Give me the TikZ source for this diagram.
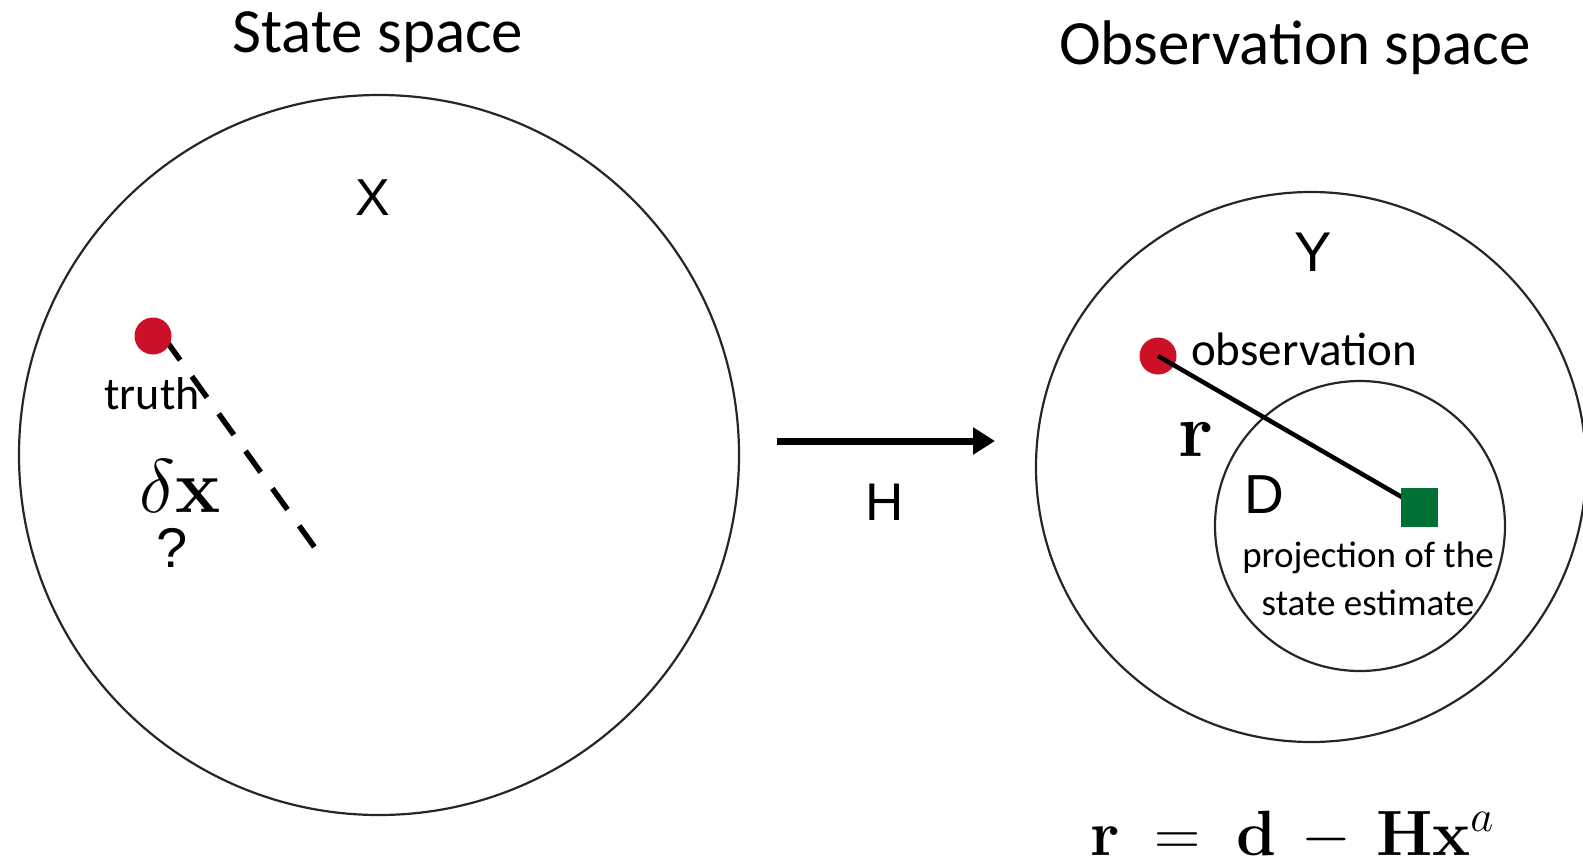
\RequirePackage{fix-cm}
\documentclass[tikz,border=0pt]{standalone}
\usepackage[no-math]{fontspec}
\setmainfont{Carlito}
\newfontfamily\arialf{Liberation Sans}
\usetikzlibrary{arrows.meta}
\definecolor{dotred}{RGB}{204,16,40}
\definecolor{boxgreen}{RGB}{0,112,52}
\tikzset{
  ring/.style={draw=black!85, line width=2.2pt, circle, inner sep=0pt},
  reddot/.style={circle, fill=dotred, inner sep=0pt, minimum size=37pt},
  cal/.style={inner sep=0pt, font=\fontsize{#1}{#1}\selectfont},
  ari/.style={inner sep=0pt, font=\arialf\fontsize{#1}{#1}\selectfont},
  mth/.style={inner sep=0pt, font=\fontsize{#1}{#1}\selectfont},
}
\begin{document}
\begin{tikzpicture}[x=1pt,y=-1pt]
\useasboundingbox (0,0) rectangle (1583,865);
% titles
\node[cal=63] (st) at (378,37) {State space};
\node[cal=63] (ot) at (1295,48) {Observation space};
% circles
\node[ring, minimum size=720pt] (S) at (379,455) {};
\node[ring, minimum size=550pt] (O) at (1311,467) {};
\node[ring, minimum size=290pt] (Dc) at (1360,526) {};
% state space content
\node[ari=52] (X) at (373,198) {X};
\coordinate (dstart) at (165,339);
\coordinate (dend) at (318,552);
\draw[line width=5.5pt, dash pattern=on 26pt off 20pt] (dstart) -- (dend);
\node[reddot] (truth) at (153,336) {};
\node[cal=46] (tl) at (152,394) {truth};
\node[mth=76] (dx) at (180,486) {$\delta\mathbf{x}$};
\node[ari=56] (q) at (172,548) {?};
% arrow
\coordinate (a1) at (777,441);
\coordinate (a2) at (995,441);
\draw[line width=7pt, -{Triangle[length=22pt,width=26pt]}] (a1) -- (a2);
\node[ari=53] (H) at (885,502) {H};
% observation space content
\node[ari=56] (Y) at (1313,252) {Y};
\node[reddot] (obs) at (1158,356) {};
\node[cal=47, anchor=west] (ol) at (1191,349) {observation};
\node[fill=boxgreen, inner sep=0pt, minimum width=37pt, minimum height=39pt] (est) at (1419,507) {};
\draw[line width=4.5pt] (obs.center) -- (est.center);
\node[fill=boxgreen, inner sep=0pt, minimum width=37pt, minimum height=39pt] at (est) {};
\node[mth=76] (r) at (1196,440) {$\mathbf{r}$};
\node[ari=55] (D) at (1264,495) {D};
\node[cal=37] (p1) at (1368,558) {projection of the};
\node[cal=37] (p2) at (1368,603) {state estimate};
% equation
\node[mth=64, anchor=base] (eq) at (1292,855) {$\mathbf{r}\;=\;\mathbf{d}\,-\,\mathbf{H}\mathbf{x}^{a}$};
\end{tikzpicture}
\end{document}
